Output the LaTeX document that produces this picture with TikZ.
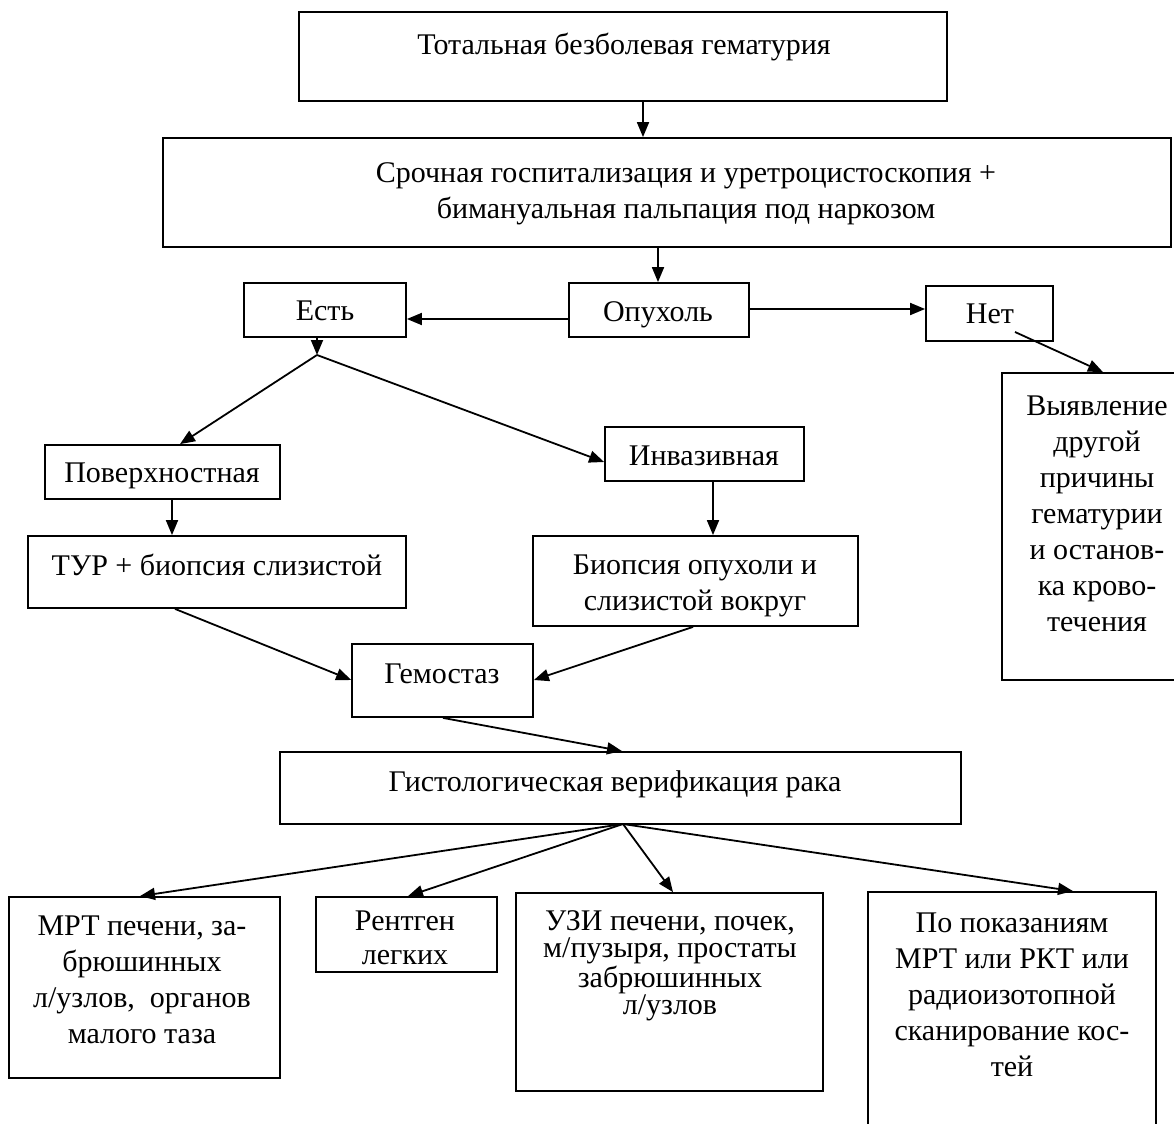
\documentclass[tikz,border=0pt]{standalone}
\usepackage{fontspec}
\setmainfont{Liberation Serif}
\usetikzlibrary{arrows.meta,fit}
\begin{document}
\begin{tikzpicture}[x=0.5pt,y=-0.5pt,
  box/.style={draw, line width=0.9pt, inner sep=0pt},
  txt/.style={font=\fontsize{15}{18}\selectfont, align=center, inner sep=0pt, anchor=north},
  tight/.style={font=\fontsize{15}{13.5}\selectfont},
  mid/.style={font=\fontsize{15}{17}\selectfont},
  arr/.style={line width=0.9pt, -{Triangle[length=7.5pt,width=6pt]}}]
\useasboundingbox (0,0) rectangle (1174,1124);
% boxes
\node[box, fit={(299,12)(947,101)}] (b1) {};
\node[box, fit={(163,138)(1171,247)}] (b2) {};
\node[box, fit={(244,283)(406,337)}] (est) {};
\node[box, fit={(569,283)(749,337)}] (opu) {};
\node[box, fit={(926,286)(1053,341)}] (net) {};
\node[box, fit={(1002,373)(1190,680)}] (vyy) {};
\node[box, fit={(45,445)(280,499)}] (pov) {};
\node[box, fit={(605,427)(804,481)}] (inv) {};
\node[box, fit={(28,536)(406,608)}] (tur) {};
\node[box, fit={(533,536)(858,626)}] (bio) {};
\node[box, fit={(352,644)(533,717)}] (gem) {};
\node[box, fit={(280,752)(961,824)}] (gist) {};
\node[box, fit={(9,897)(280,1078)}] (mrt) {};
\node[box, fit={(316,897)(497,972)}] (rent) {};
\node[box, fit={(516,893)(823,1091)}] (uzi) {};
\node[box, fit={(868,892)(1156,1140)}] (pok) {};
% texts
\node[txt] (t1) at (624,33) {Тотальная безболевая гематурия};
\node[txt] (t2) at (686,162) {Срочная госпитализация и уретроцистоскопия +\\бимануальная пальпация под наркозом};
\node[txt] (test) at (325,300) {Есть};
\node[txt] (topu) at (658,301) {Опухоль};
\node[txt] (tnet) at (990,303) {Нет};
\node[txt] (tvyy) at (1097,395) {Выявление\\другой\\причины\\гематурии\\и останов-\\ка крово-\\течения};
\node[txt] (tpov) at (162,462) {Поверхностная};
\node[txt] (tinv) at (704,445) {Инвазивная};
\node[txt] (ttur) at (217,554) {ТУР + биопсия слизистой};
\node[txt] (tbio) at (695,554) {Биопсия опухоли и\\слизистой вокруг};
\node[txt] (tgem) at (442,663) {Гемостаз};
\node[txt] (tgist) at (615,770) {Гистологическая верификация рака};
\node[txt] (tmrt) at (142,915) {МРТ печени, за-\\брюшинных\\л/узлов,~ органов\\малого таза};
\node[txt, mid] (trent) at (405,910) {Рентген\\легких};
\node[txt, tight] (tuzi) at (670,910) {УЗИ печени, почек,\\м/пузыря, простаты\\забрюшинных\\л/узлов};
\node[txt] (tpok) at (1012,912) {По показаниям\\МРТ или РКТ или\\радиоизотопной\\сканирование кос-\\тей};
% helper coordinates
\coordinate (xa) at (643,0);
\coordinate (xb) at (658,0);
\coordinate (xc) at (180,0);
\coordinate (xd) at (172,0);
\coordinate (xe) at (713,0);
\coordinate (xf) at (175,0);
\coordinate (xg) at (693,0);
\coordinate (xh) at (443,0);
\coordinate (xi) at (622,0);
\coordinate (xj) at (140,0);
\coordinate (xk) at (408,0);
\coordinate (xl) at (673,0);
\coordinate (xm) at (1073,0);
\coordinate (xn) at (1103,0);
\coordinate (ya) at (0,319);
\coordinate (yb) at (0,309);
\coordinate (yc) at (0,462);
\coordinate (yd) at (0,680);
\coordinate (fork1) at (317,355);
\coordinate (fork2) at (623,824);
% connectors
\draw[arr] (b1.south -| xa) -- (b2.north -| xa);
\draw[arr] (b2.south -| xb) -- (opu.north -| xb);
\draw[arr] (opu.west |- ya) -- (est.east |- ya);
\draw[arr] (opu.east |- yb) -- (net.west |- yb);
\draw[arr] ([xshift=12.75pt,yshift=-9.25pt]net.center) -- (vyy.north -| xn);
\draw[arr] (est.south -| fork1) -- (fork1);
\draw[arr] (fork1) -- (pov.north -| xc);
\draw[arr] (fork1) -- (inv.west |- yc);
\draw[arr] (pov.south -| xd) -- (tur.north -| xd);
\draw[arr] (inv.south -| xe) -- (bio.north -| xe);
\draw[arr] (tur.south -| xf) -- (gem.west |- yd);
\draw[arr] (bio.south -| xg) -- (gem.east |- yd);
\draw[arr] (gem.south -| xh) -- (gist.north -| xi);
\draw[arr] (fork2) -- (mrt.north -| xj);
\draw[arr] (fork2) -- (rent.north -| xk);
\draw[arr] (fork2) -- (uzi.north -| xl);
\draw[arr] (fork2) -- (pok.north -| xm);
\end{tikzpicture}
\end{document}
